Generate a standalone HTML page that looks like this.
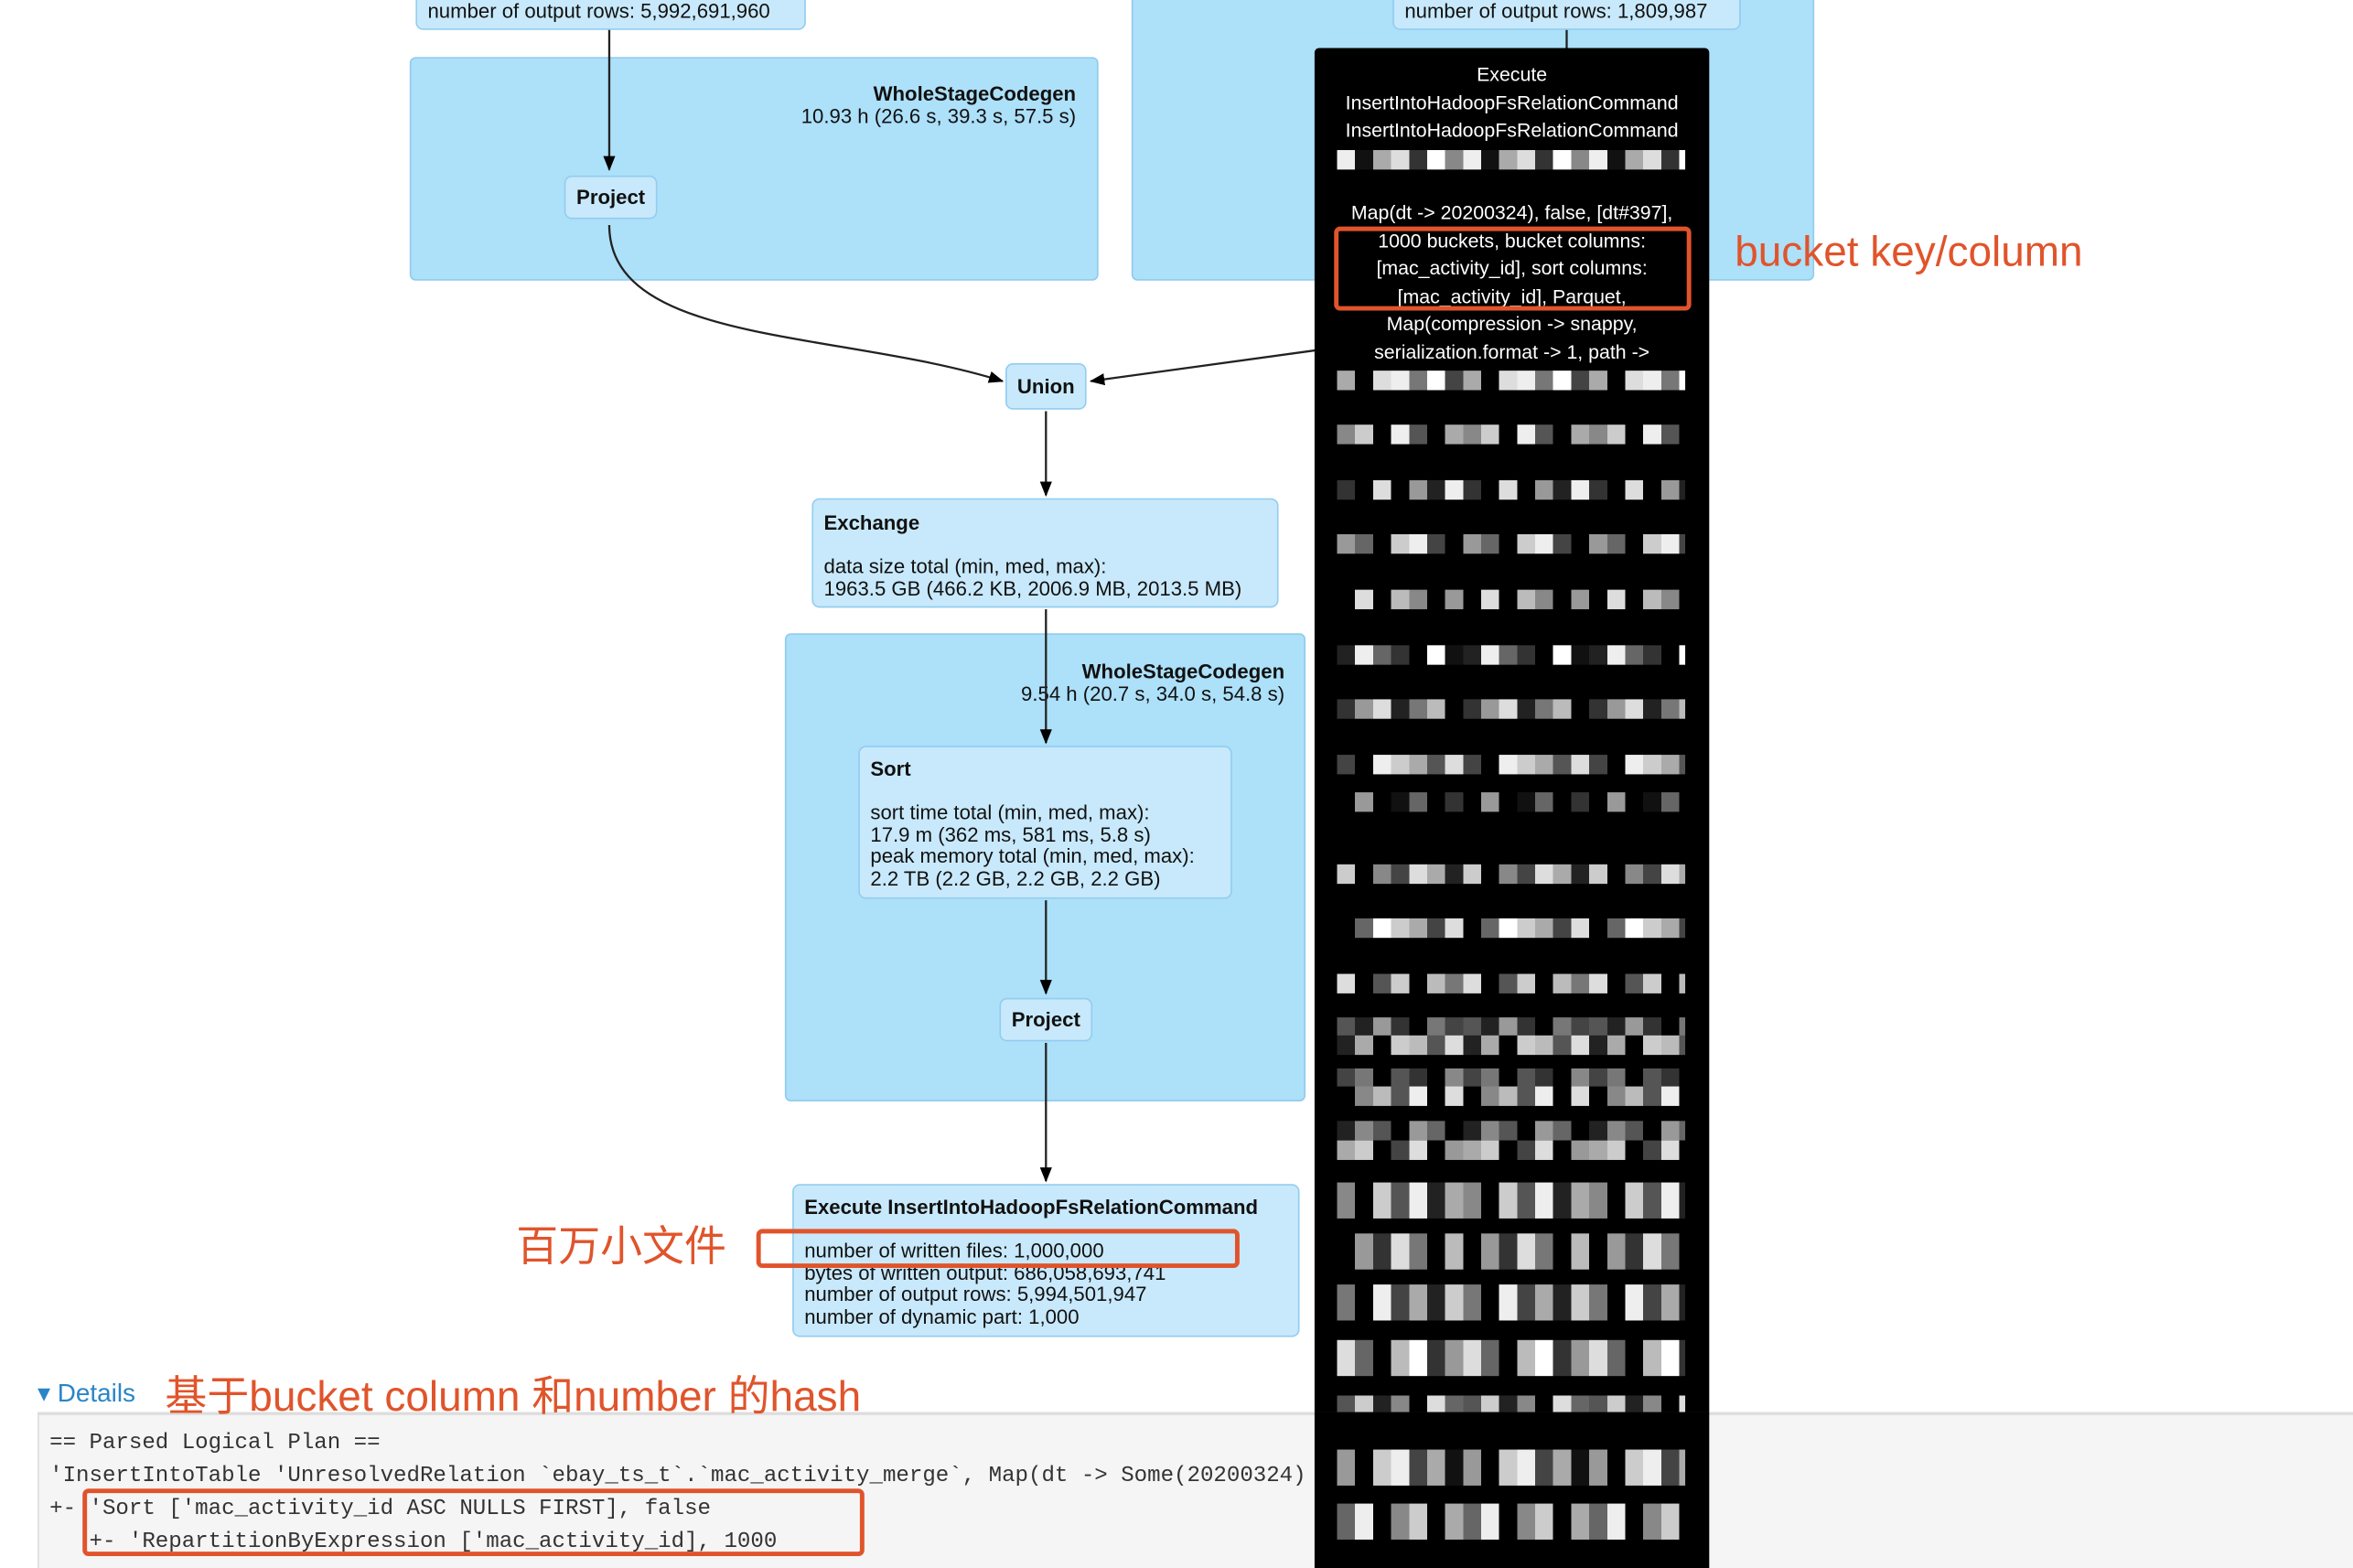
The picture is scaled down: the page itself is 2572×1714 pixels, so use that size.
<!DOCTYPE html>
<html><head><meta charset="utf-8"><style>
html,body{margin:0;padding:0;background:#fff;overflow:hidden;width:2572px;height:1714px}
#w{position:absolute;left:0;top:0;width:1568px;height:1045px;transform:scale(1.64031);transform-origin:0 0;font-family:"Liberation Sans",Arial,sans-serif;color:#111}
.a{position:absolute;box-sizing:border-box}
.cl{background:#ade0f9;border:1.5px solid #90cbef;border-radius:4px}
.nd{background:#c8e9fb;border:1.5px solid #92cdf0;border-radius:5px;font-size:13.5px;line-height:14.5px}
.b{font-weight:bold}
.red{border:3px solid #e0542b;border-radius:4px}
.rt{color:#e0542b;font-family:"Liberation Sans","Noto Sans CJK SC",sans-serif;position:absolute;white-space:nowrap;z-index:5}
.tt{color:#fff;font-size:13px;text-align:center;position:absolute;left:876px;width:263px;line-height:18.5px}
.px{position:absolute;height:13px;left:891px;width:232px}
.mono{font-family:"Liberation Mono",monospace;font-size:14.7px;position:absolute;white-space:pre;color:#333}
</style></head><body><div id="w">

<div class="a cl" style="left:273px;top:38px;width:459px;height:149px"></div>
<div class="a cl" style="left:754px;top:-5px;width:455px;height:192px"></div>
<div class="a nd" style="left:277px;top:-6px;width:260px;height:26px;padding:6px 0 0 7px">number of output rows: 5,992,691,960</div>
<div class="a nd" style="left:928px;top:-6px;width:232px;height:26px;padding:6px 0 0 7px">number of output rows: 1,809,987</div>
<div class="a" style="left:400px;top:56px;width:317px;text-align:right;font-size:13.5px;line-height:14.5px"><span class="b">WholeStageCodegen</span><br>10.93 h (26.6 s, 39.3 s, 57.5 s)</div>
<div class="a nd b" style="left:376px;top:117px;width:62px;height:29px;text-align:center;padding-top:7px">Project</div>
<div class="a nd b" style="left:670px;top:242px;width:54px;height:31px;text-align:center;padding-top:8px">Union</div>

<div class="a nd" style="left:541px;top:332px;width:311px;height:73px;padding:9px 0 0 7px"><span class="b">Exchange</span><br><br>data size total (min, med, max):<br>1963.5 GB (466.2 KB, 2006.9 MB, 2013.5 MB)</div>

<div class="a cl" style="left:523px;top:422px;width:347px;height:312px"></div>
<div class="a" style="left:560px;top:441px;width:296px;text-align:right;font-size:13.5px;line-height:14.5px"><span class="b">WholeStageCodegen</span><br>9.54 h (20.7 s, 34.0 s, 54.8 s)</div>
<div class="a nd" style="left:572px;top:497px;width:249px;height:102px;padding:8px 0 0 7px"><span class="b">Sort</span><br><br>sort time total (min, med, max):<br>17.9 m (362 ms, 581 ms, 5.8 s)<br>peak memory total (min, med, max):<br>2.2 TB (2.2 GB, 2.2 GB, 2.2 GB)</div>
<div class="a nd b" style="left:666px;top:665px;width:62px;height:29px;text-align:center;padding-top:7px">Project</div>

<div class="a nd" style="left:528px;top:789px;width:338px;height:102px;padding:8px 0 0 7px"><span class="b">Execute InsertIntoHadoopFsRelationCommand</span><br><br>number of written files: 1,000,000<br>bytes of written output: 686,058,693,741<br>number of output rows: 5,994,501,947<br>number of dynamic part: 1,000</div>

<svg class="a" style="left:0;top:0" width="1568" height="1045" viewBox="0 0 1568 1045">
<defs><marker id="ar" markerWidth="10" markerHeight="10" refX="9" refY="5" orient="auto" markerUnits="userSpaceOnUse"><path d="M0,1 L10,5 L0,9 z" fill="#000"/></marker></defs>
<g stroke="#222" stroke-width="1.4" fill="none">
<path d="M406 20 V113" marker-end="url(#ar)"/>
<path d="M406 150 C406 230 560 220 668 254" marker-end="url(#ar)"/>
<path d="M880 233 L727 254" marker-end="url(#ar)"/>
<path d="M1044 20 V34"/>
<path d="M697 274 V330" marker-end="url(#ar)"/>
<path d="M697 406 V495" marker-end="url(#ar)"/>
<path d="M697 600 V662" marker-end="url(#ar)"/>
<path d="M697 695 V787" marker-end="url(#ar)"/>
</g></svg>

<div class="a" style="left:876px;top:32px;width:263px;height:1013px;background:#000;border-radius:3px"></div>
<div class="tt" style="top:41px">Execute<br>InsertIntoHadoopFsRelationCommand<br>InsertIntoHadoopFsRelationCommand</div>
<div class="px" style="top:100px;background:repeating-linear-gradient(90deg,#eee 0 12px,#111 12px 24px,#aaa 24px 36px,#ddd 36px 48px,#333 48px 60px,#fff 60px 72px,#888 72px 84px)"></div>
<div class="tt" style="top:133px">Map(dt -&gt; 20200324), false, [dt#397],<br>1000 buckets, bucket columns:<br>[mac_activity_id], sort columns:<br>[mac_activity_id], Parquet,<br>Map(compression -&gt; snappy,<br>serialization.format -&gt; 1, path -&gt;</div>
<div class="px" style="top:247px;background:repeating-linear-gradient(90deg,#aaa 0 12px,#000 12px 24px,#ddd 24px 36px,#eee 36px 48px,#777 48px 60px,#fff 60px 72px,#444 72px 84px)"></div>
<div class="px" style="top:283px;background:repeating-linear-gradient(90deg,#888 0 12px,#ccc 12px 24px,#000 24px 36px,#eee 36px 48px,#555 48px 60px,#000 60px 72px,#aaa 72px 84px)"></div>
<div class="px" style="top:320px;background:repeating-linear-gradient(90deg,#333 0 12px,#000 12px 24px,#ddd 24px 36px,#000 36px 48px,#999 48px 60px,#222 60px 72px,#eee 72px 84px)"></div>
<div class="px" style="top:356px;background:repeating-linear-gradient(90deg,#999 0 12px,#666 12px 24px,#000 24px 36px,#ccc 36px 48px,#eee 48px 60px,#444 60px 72px,#000 72px 84px)"></div>
<div class="px" style="top:393px;background:repeating-linear-gradient(90deg,#000 0 12px,#ddd 12px 24px,#000 24px 36px,#bbb 36px 48px,#888 48px 60px,#000 60px 72px,#999 72px 84px)"></div>
<div class="px" style="top:430px;background:repeating-linear-gradient(90deg,#222 0 12px,#eee 12px 24px,#666 24px 36px,#333 36px 48px,#000 48px 60px,#fff 60px 72px,#111 72px 84px)"></div>
<div class="px" style="top:466px;background:repeating-linear-gradient(90deg,#333 0 12px,#999 12px 24px,#ddd 24px 36px,#222 36px 48px,#777 48px 60px,#bbb 60px 72px,#000 72px 84px)"></div>
<div class="px" style="top:503px;background:repeating-linear-gradient(90deg,#444 0 12px,#000 12px 24px,#eee 24px 36px,#ccc 36px 48px,#aaa 48px 60px,#555 60px 72px,#ddd 72px 84px)"></div>
<div class="px" style="top:528px;background:repeating-linear-gradient(90deg,#000 0 12px,#999 12px 24px,#000 24px 36px,#111 36px 48px,#666 48px 60px,#000 60px 72px,#333 72px 84px)"></div>
<div class="px" style="top:576px;background:repeating-linear-gradient(90deg,#ccc 0 12px,#000 12px 24px,#888 24px 36px,#444 36px 48px,#ddd 48px 60px,#aaa 60px 72px,#222 72px 84px)"></div>
<div class="px" style="top:612px;background:repeating-linear-gradient(90deg,#000 0 12px,#666 12px 24px,#fff 24px 36px,#ccc 36px 48px,#aaa 48px 60px,#444 60px 72px,#ddd 72px 84px)"></div>
<div class="px" style="top:649px;background:repeating-linear-gradient(90deg,#ddd 0 12px,#000 12px 24px,#555 24px 36px,#ccc 36px 48px,#000 48px 60px,#bbb 60px 72px,#777 72px 84px)"></div>
<div class="px" style="top:678px;background:repeating-linear-gradient(90deg,#555 0 12px,#222 12px 24px,#999 24px 36px,#333 36px 48px,#000 48px 60px,#777 60px 72px,#444 72px 84px)"></div>
<div class="px" style="top:690px;background:repeating-linear-gradient(90deg,#222 0 12px,#aaa 12px 24px,#000 24px 36px,#ccc 36px 48px,#bbb 48px 60px,#555 60px 72px,#ddd 72px 84px)"></div>
<div class="px" style="top:712px;background:repeating-linear-gradient(90deg,#444 0 12px,#777 12px 24px,#000 24px 36px,#555 36px 48px,#333 48px 60px,#000 60px 72px,#888 72px 84px)"></div>
<div class="px" style="top:724px;background:repeating-linear-gradient(90deg,#000 0 12px,#888 12px 24px,#bbb 24px 36px,#555 36px 48px,#eee 48px 60px,#000 60px 72px,#ddd 72px 84px)"></div>
<div class="px" style="top:747px;background:repeating-linear-gradient(90deg,#222 0 12px,#888 12px 24px,#555 24px 36px,#000 36px 48px,#999 48px 60px,#666 60px 72px,#000 72px 84px)"></div>
<div class="px" style="top:760px;background:repeating-linear-gradient(90deg,#aaa 0 12px,#ccc 12px 24px,#000 24px 36px,#444 36px 48px,#ddd 48px 60px,#000 60px 72px,#999 72px 84px)"></div>
<div class="px" style="top:788px;height:24px;background:repeating-linear-gradient(90deg,#888 0 12px,#000 12px 24px,#ccc 24px 36px,#555 36px 48px,#eee 48px 60px,#222 60px 72px,#aaa 72px 84px)"></div>
<div class="px" style="top:822px;height:24px;background:repeating-linear-gradient(90deg,#000 0 12px,#999 12px 24px,#333 24px 36px,#ddd 36px 48px,#777 48px 60px,#000 60px 72px,#bbb 72px 84px)"></div>
<div class="px" style="top:856px;height:24px;background:repeating-linear-gradient(90deg,#777 0 12px,#000 12px 24px,#eee 24px 36px,#444 36px 48px,#aaa 48px 60px,#222 60px 72px,#ccc 72px 84px)"></div>
<div class="px" style="top:893px;height:24px;background:repeating-linear-gradient(90deg,#ddd 0 12px,#666 12px 24px,#000 24px 36px,#bbb 36px 48px,#fff 48px 60px,#333 60px 72px,#999 72px 84px)"></div>
<div class="px" style="top:930px;height:24px;background:repeating-linear-gradient(90deg,#555 0 12px,#ccc 12px 24px,#222 24px 36px,#888 36px 48px,#000 48px 60px,#ddd 60px 72px,#666 72px 84px)"></div>

<div class="a red" style="left:889px;top:151px;width:238px;height:56px"></div>
<div class="a red" style="left:504px;top:819px;width:322px;height:26px"></div>
<div class="rt" style="left:1156px;top:152px;font-size:28px">bucket key/column</div>
<div class="rt" style="left:344px;top:809px;font-size:28px">百万小文件</div>

<div class="a" style="left:25px;top:919px;font-size:17px;color:#2a85c8">&#9662; Details</div>
<div class="a" style="left:25px;top:941px;width:1543px;height:104px;background:#f5f5f5;border-top:2px solid #ddd;border-left:1px solid #ddd"></div>
<div class="rt" style="left:110px;top:909px;font-size:28px">基于bucket column 和number 的hash</div>
<div class="mono" style="left:33px;top:951px;line-height:22px">== Parsed Logical Plan ==
'InsertIntoTable 'UnresolvedRelation `ebay_ts_t`.`mac_activity_merge`, Map(dt -&gt; Some(20200324)
+- 'Sort ['mac_activity_id ASC NULLS FIRST], false
   +- 'RepartitionByExpression ['mac_activity_id], 1000</div>
<div class="a red" style="left:55px;top:992px;width:521px;height:45px"></div>
<div class="a" style="left:876px;top:941px;width:263px;height:104px;background:#000"></div>
<div class="px" style="top:966px;height:24px;background:repeating-linear-gradient(90deg,#999 0 12px,#000 12px 24px,#ccc 24px 36px,#eee 36px 48px,#444 48px 60px,#aaa 60px 72px,#111 72px 84px)"></div>
<div class="px" style="top:1002px;height:24px;background:repeating-linear-gradient(90deg,#666 0 12px,#eee 12px 24px,#000 24px 36px,#888 36px 48px,#ccc 48px 60px,#000 60px 72px,#aaa 72px 84px)"></div>
</div></body></html>
